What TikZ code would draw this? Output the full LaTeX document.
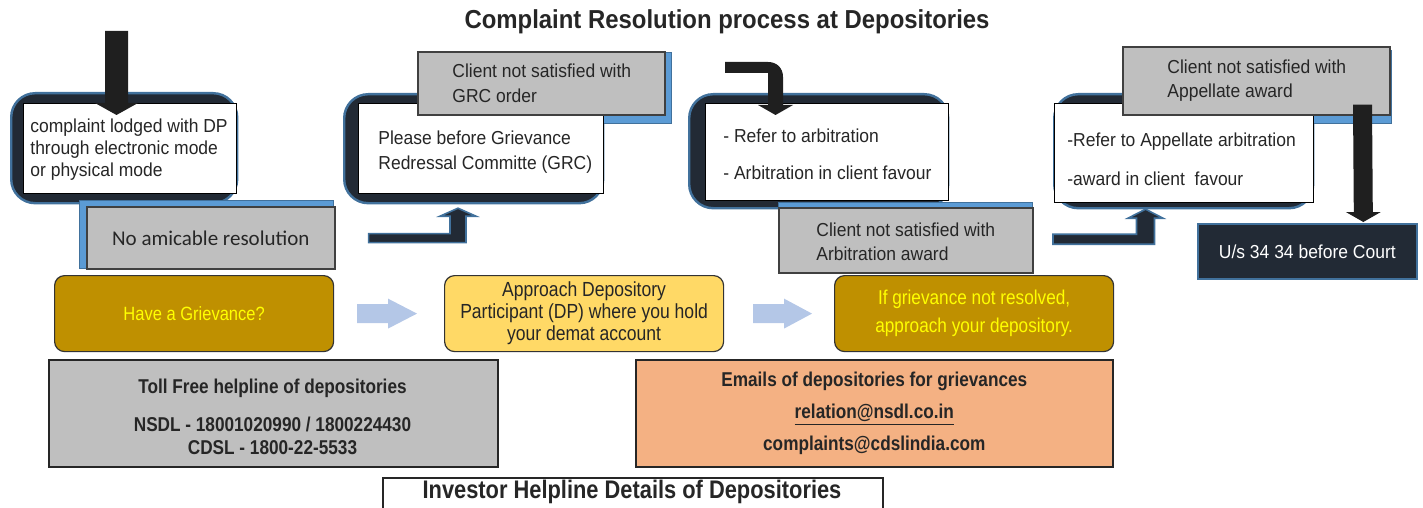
\documentclass[tikz,border=0pt]{standalone}
\usepackage{fontspec}
\setmainfont{Liberation Sans}
\newfontfamily\fa[FakeStretch=0.93]{Liberation Sans}
\newfontfamily\fb[FakeStretch=0.86]{Liberation Sans}
\newfontfamily\ft[FakeStretch=0.92]{Liberation Sans}
\newfontfamily\fcal{Carlito}
\usetikzlibrary{calc}
\definecolor{navy}{HTML}{222A35}
\definecolor{fblue}{HTML}{41719C}
\definecolor{sblue}{HTML}{5B9BD5}
\definecolor{gfill}{HTML}{BFBFBF}
\definecolor{gold}{HTML}{BF9000}
\definecolor{lyel}{HTML}{FFD966}
\definecolor{salmon}{HTML}{F4B183}
\definecolor{larrow}{HTML}{B4C7E7}
\definecolor{ink}{HTML}{262626}
\definecolor{ytext}{HTML}{FFFF00}
\begin{document}
\begin{tikzpicture}[x=0.5pt,y=-0.5pt,
  frame/.style={fill=navy, draw=fblue, line width=1.2pt, rounded corners=12pt, anchor=north west, inner sep=0pt},
  wbox/.style={fill=white, draw=black, line width=0.6pt, anchor=north west, inner sep=0pt},
  gbox/.style={fill=gfill, draw=black!75, line width=0.8pt, anchor=north west, inner sep=0pt},
  shadowbox/.style={fill=sblue, draw=fblue, line width=0.4pt, anchor=north west, inner sep=0pt},
  txt/.style={font=\fa\fontsize{9.4}{11}\selectfont, text=ink, align=left, anchor=west, inner sep=0pt},
  pill/.style={rounded corners=5pt, draw=black!80, line width=0.6pt, minimum width=139.5pt, minimum height=38pt, anchor=north west, inner sep=0pt},
  infobox/.style={draw=black!85, line width=0.8pt, anchor=north west, inner sep=0pt},
  navyarrow/.style={fill=navy, draw=fblue, line width=0.8pt},
  blackarrow/.style={fill=black!88},
  palearrow/.style={fill=larrow}
]
\useasboundingbox (0,0) rectangle (1423,508);

% title
\node[font=\ft\bfseries\fontsize{13}{15}\selectfont, text=ink] (title) at (727,22) {Complaint Resolution process at Depositories};

% dark frames
\node[frame, minimum width=113pt, minimum height=55pt] (d1) at (10,92) {};
\node[frame, minimum width=129.5pt, minimum height=54.5pt] (d2) at (343,93) {};
\node[frame, minimum width=129.5pt, minimum height=57pt] (d3) at (688,93) {};
\node[frame, minimum width=129.5pt, minimum height=57pt] (d4) at (1053,93) {};

% blue backings
\node[shadowbox, minimum width=127pt, minimum height=34pt] (b1) at (79,200) {};
\node[shadowbox, minimum width=123.5pt, minimum height=35.5pt] (b2) at (424,52) {};
\node[shadowbox, minimum width=127pt, minimum height=35pt] (b3) at (778,202) {};
\node[shadowbox, minimum width=131.5pt, minimum height=36.5pt] (b4) at (1128,50) {};

% white boxes
\node[wbox, minimum width=106.5pt, minimum height=45pt] (w1) at (23,103) {};
\node[wbox, minimum width=122.5pt, minimum height=45pt] (w2) at (358,103) {};
\node[wbox, minimum width=121.5pt, minimum height=48.5pt] (w3) at (705,103) {};
\node[wbox, minimum width=129.5pt, minimum height=49.5pt] (w4) at (1054,103) {};

% gray boxes
\node[gbox, minimum width=124pt, minimum height=31pt] (g1) at (86,206) {};
\node[gbox, minimum width=123.5pt, minimum height=31.5pt] (g2) at (417,51) {};
\node[gbox, minimum width=127pt, minimum height=32.5pt] (g3) at (778,207) {};
\node[gbox, minimum width=133.5pt, minimum height=34pt] (g4) at (1122,46) {};

% texts of upper boxes
\node[txt] (t1) at (30,150) {complaint lodged with DP\\through electronic mode\\or physical mode};
\node[txt, font=\fa\fontsize{9.4}{12.5}\selectfont] (t2) at (378,152.5) {Please before Grievance\\Redressal Committe (GRC)};
\node[txt, font=\fa\fontsize{9.4}{12}\selectfont] (t3) at (723,154.5) {- Refer to arbitration\\[6.5pt]- Arbitration in client favour};
\node[txt, font=\fa\fontsize{9.4}{12}\selectfont] (t4) at (1067,159.5) {-Refer to Appellate arbitration\\[7.5pt]-award in client\ \ favour};
\node[font=\fcal\fontsize{10.5}{12}\selectfont, text=ink] (t8) at (g1.center) {No amicable resolution};
\node[txt, font=\fa\fontsize{9.4}{12.5}\selectfont] (t5) at (452,83.5) {Client not satisfied with\\GRC order};
\node[txt, font=\fa\fontsize{9.4}{12}\selectfont] (t6) at (816,242) {Client not satisfied with\\Arbitration award};
\node[txt, font=\fa\fontsize{9.4}{12}\selectfont] (t7) at (1167,81) {Client not satisfied with\\Appellate award};

% court box
\node[fill=navy, draw=fblue, line width=0.8pt, anchor=north west, inner sep=0pt, minimum width=109.5pt, minimum height=27.5pt, text=white, font=\fa\fontsize{9.4}{11}\selectfont] (court) at (1197,223) {U/s 34 34 before Court};

% arrow into box 1
\coordinate (a1s) at (116.5,31);
\coordinate (a1e) at ($(w1.north west)+(93.5,12)$);
\fill[blackarrow] ($(a1s)+(-11.5,0)$) -- ($(a1s)+(11.5,0)$) -- ($(a1e)+(11.5,-12)$) -- ($(a1e)+(21.5,-12)$) -- (a1e) -- ($(a1e)+(-21.5,-12)$) -- ($(a1e)+(-11.5,-12)$) -- cycle;

% bent arrow from box 1 to box 2
\coordinate (a2s) at ($(g1.south east)+(33,-31.5)$);
\coordinate (a2e) at ($(w2.south west)+(100,14)$);
\coordinate (a2c) at (a2e |- a2s);
\draw[navyarrow] ($(a2s)+(0,-4.5)$) -- ($(a2c)+(-8,-4.5)$) -- ($(a2e)+(-8,8)$) -- ($(a2e)+(-18,8)$) -- (a2e) -- ($(a2e)+(18,8)$) -- ($(a2e)+(8,8)$) -- ($(a2c)+(8,4.5)$) -- ($(a2s)+(0,4.5)$) -- cycle;

% bent black arrow into box 3
\coordinate (a3s) at (725,67.5);
\coordinate (a3e) at ($(w3.north west)+(70.5,12)$);
\coordinate (a3c) at (a3e |- a3s);
\fill[blackarrow] ($(a3s)+(0,-5.5)$) -- ($(a3c)+(-7.5,-5.5)$) .. controls ($(a3c)+(1.5,-5.5)$) and ($(a3c)+(7.5,0.5)$) .. ($(a3c)+(7.5,9.5)$) -- ($(a3e)+(7.5,-10)$) -- ($(a3e)+(17.5,-10)$) -- (a3e) -- ($(a3e)+(-17.5,-10)$) -- ($(a3e)+(-7.5,-10)$) -- ($(a3c)+(-7.5,5.5)$) -- ($(a3s)+(0,5.5)$) -- cycle;

% bent arrow from box 3 to box 4
\coordinate (a4s) at ($(w4.south west)+(-1,36)$);
\coordinate (a4e) at ($(w4.south west)+(91.5,6)$);
\coordinate (a4c) at (a4e |- a4s);
\draw[navyarrow] ($(a4s)+(0,-5)$) -- ($(a4c)+(-9,-5)$) -- ($(a4e)+(-9,9)$) -- ($(a4e)+(-17.5,9)$) -- (a4e) -- ($(a4e)+(17.5,9)$) -- ($(a4e)+(9,9)$) -- ($(a4c)+(9,5)$) -- ($(a4s)+(0,5)$) -- cycle;

% black arrow to court
\coordinate (a5s) at ($(g4.south west)+(240.5,-11)$);
\coordinate (a5e) at ($(court.north)+(56,-1)$);
\fill[blackarrow] ($(a5s)+(-9.5,0)$) -- ($(a5s)+(9.5,0)$) -- ($(a5e)+(9.5,-10)$) -- ($(a5e)+(17.5,-10)$) -- (a5e) -- ($(a5e)+(-17.5,-10)$) -- ($(a5e)+(-9.5,-10)$) -- cycle;

% bottom row
\node[pill, fill=gold, text=ytext, font=\fb\fontsize{9.6}{11}\selectfont] (grv) at (54,275) {Have a Grievance?};
\node[pill, fill=lyel, text=ink, align=center, font=\fb\fontsize{10.2}{11}\selectfont] (dp) at (444,275) {Approach Depository\\Participant (DP) where you hold\\your demat account};
\node[pill, fill=gold, text=ytext, align=center, font=\fb\fontsize{10}{14}\selectfont] (ifg) at (834,275) {If grievance not resolved,\\approach your depository.};

\coordinate (p1s) at ($(grv.east)+(23,0)$);
\coordinate (p1e) at ($(dp.west)+(-27,0)$);
\fill[palearrow] ($(p1s)+(0,-9.5)$) -- ($(p1e)+(-29,-9.5)$) -- ($(p1e)+(-29,-15)$) -- (p1e) -- ($(p1e)+(-29,15)$) -- ($(p1e)+(-29,9.5)$) -- ($(p1s)+(0,9.5)$) -- cycle;
\coordinate (p2s) at ($(dp.east)+(29,0)$);
\coordinate (p2e) at ($(ifg.west)+(-22,0)$);
\fill[palearrow] ($(p2s)+(0,-9.5)$) -- ($(p2e)+(-28,-9.5)$) -- ($(p2e)+(-28,-15)$) -- (p2e) -- ($(p2e)+(-28,15)$) -- ($(p2e)+(-28,9.5)$) -- ($(p2s)+(0,9.5)$) -- cycle;

% info boxes
\node[infobox, fill=gfill, minimum width=224.5pt, minimum height=53.5pt] (toll) at (48,359) {};
\node[font=\fb\bfseries\fontsize{10}{11.5}\selectfont, text=ink, align=center, inner sep=0pt] (tollt) at (272.5,416.5) {Toll Free helpline of depositories\\[7.5pt]NSDL - 18001020990 / 1800224430\\CDSL - 1800-22-5533};
\node[infobox, fill=salmon, minimum width=238.5pt, minimum height=53.5pt, align=center, text=ink, font=\fb\bfseries\fontsize{10}{16}\selectfont] (mail) at (635,359) {Emails of depositories for grievances\\\underline{relation@nsdl.co.in}\\complaints@cdslindia.com};
\node[infobox, fill=white, minimum width=250pt, minimum height=20pt] (inv) at (382,477) {};
\node[font=\fb\bfseries\fontsize{12.7}{14}\selectfont, text=ink, inner sep=0pt] (invt) at (632,492) {Investor Helpline Details of Depositories};
\end{tikzpicture}
\end{document}
